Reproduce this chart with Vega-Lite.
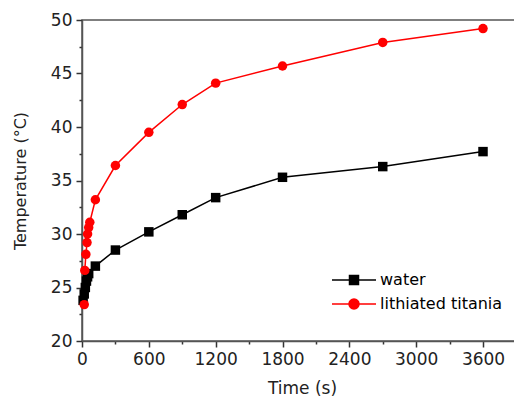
{
  "$schema": "https://vega.github.io/schema/vega-lite/v6.json",
  "autosize": "none",
  "padding": {"left": 82, "top": 20, "right": 0, "bottom": 63},
  "width": 440,
  "height": 321,
  "background": "white",
  "config": {
    "view": {"stroke": "#555555", "strokeWidth": 1.5},
    "font": "DejaVu Sans",
    "axis": {"grid": false, "ticks": true, "domainColor": "#555555", "domainWidth": 1.5, "tickColor": "#333333", "tickWidth": 1.5, "labelFont": "DejaVu Sans", "labelFontSize": 17, "labelColor": "#222222", "titleFont": "DejaVu Sans", "titleFontSize": 17, "titleFontWeight": "normal", "titleColor": "#222222", "labelFlush": false, "labelOverlap": false},
    "legend": {"title": null, "orient": "none", "legendX": 264, "legendY": 252, "padding": 0, "symbolSize": 100, "labelOffset": 18, "labelFontSize": 16, "labelColor": "#000000", "labelFont": "DejaVu Sans", "rowPadding": 8, "symbolStrokeWidth": 1.5, "symbolOpacity": 1}
  },
  "data": {
    "values": [
      {"t": 10, "T": 23.8, "series": "water"},
      {"t": 20, "T": 24.4, "series": "water"},
      {"t": 30, "T": 25.0, "series": "water"},
      {"t": 40, "T": 25.6, "series": "water"},
      {"t": 50, "T": 26.0, "series": "water"},
      {"t": 60, "T": 26.3, "series": "water"},
      {"t": 120, "T": 27.0, "series": "water"},
      {"t": 300, "T": 28.5, "series": "water"},
      {"t": 600, "T": 30.2, "series": "water"},
      {"t": 900, "T": 31.8, "series": "water"},
      {"t": 1200, "T": 33.4, "series": "water"},
      {"t": 1800, "T": 35.3, "series": "water"},
      {"t": 2700, "T": 36.3, "series": "water"},
      {"t": 3600, "T": 37.7, "series": "water"},
      {"t": 20, "T": 23.4, "series": "lithiated titania"},
      {"t": 25, "T": 26.6, "series": "lithiated titania"},
      {"t": 35, "T": 28.1, "series": "lithiated titania"},
      {"t": 45, "T": 29.2, "series": "lithiated titania"},
      {"t": 50, "T": 30.0, "series": "lithiated titania"},
      {"t": 60, "T": 30.6, "series": "lithiated titania"},
      {"t": 70, "T": 31.1, "series": "lithiated titania"},
      {"t": 120, "T": 33.2, "series": "lithiated titania"},
      {"t": 300, "T": 36.4, "series": "lithiated titania"},
      {"t": 600, "T": 39.5, "series": "lithiated titania"},
      {"t": 900, "T": 42.1, "series": "lithiated titania"},
      {"t": 1200, "T": 44.1, "series": "lithiated titania"},
      {"t": 1800, "T": 45.7, "series": "lithiated titania"},
      {"t": 2700, "T": 47.9, "series": "lithiated titania"},
      {"t": 3600, "T": 49.2, "series": "lithiated titania"}
    ]
  },
  "encoding": {
    "x": {"field": "t", "type": "quantitative", "scale": {"domain": [0, 3950], "nice": false, "zero": false}, "axis": {
      "values": [0, 300, 600, 900, 1200, 1500, 1800, 2100, 2400, 2700, 3000, 3300, 3600],
      "labelExpr": "datum.value % 600 === 0 ? format(datum.value, 'd') : ''",
      "tickSize": {"condition": {"test": "datum.value % 600 === 0", "value": 6}, "value": 3},
      "labelPadding": 4, "title": "Time (s)", "titlePadding": 13}},
    "y": {"field": "T", "type": "quantitative", "scale": {"domain": [20, 50], "nice": false, "zero": false}, "axis": {
      "values": [20, 22.5, 25, 27.5, 30, 32.5, 35, 37.5, 40, 42.5, 45, 47.5, 50],
      "labelExpr": "datum.value % 5 === 0 ? format(datum.value, 'd') : ''",
      "tickSize": {"condition": {"test": "datum.value % 5 === 0", "value": 6}, "value": 3},
      "labelPadding": 4, "title": "Temperature (°C)", "titleFontSize": 16, "titlePadding": 22}}
  },
  "layer": [
    {
      "mark": {"type": "point", "filled": true, "opacity": 0, "strokeWidth": 1.5},
      "encoding": {
        "color": {"field": "series", "type": "nominal", "scale": {"domain": ["water", "lithiated titania"], "range": ["#000000", "#ff0000"]}},
        "stroke": {"field": "series", "type": "nominal", "scale": {"domain": ["water", "lithiated titania"], "range": ["#000000", "#ff0000"]}},
        "shape": {"field": "series", "type": "nominal", "scale": {"domain": ["water", "lithiated titania"], "range": ["M-4.4,0H4.4M-0.9,-0.9H0.9V0.9H-0.9Z", "M-4.4,0H4.4M1,0A1,1,0,1,1,-1,0A1,1,0,1,1,1,0Z"]}}
      }
    },
    {
      "transform": [{"filter": "datum.series === 'water'"}],
      "mark": {"type": "line", "strokeWidth": 1.5, "color": "#000000"}
    },
    {
      "transform": [{"filter": "datum.series !== 'water'"}],
      "mark": {"type": "line", "strokeWidth": 1.5, "color": "#ff0000"}
    },
    {
      "transform": [{"filter": "datum.series === 'water'"}],
      "mark": {"type": "point", "filled": true, "opacity": 1, "size": 90, "shape": "square", "color": "#000000"}
    },
    {
      "transform": [{"filter": "datum.series !== 'water'"}],
      "mark": {"type": "point", "filled": true, "opacity": 1, "size": 90, "shape": "circle", "color": "#ff0000"}
    }
  ]
}
